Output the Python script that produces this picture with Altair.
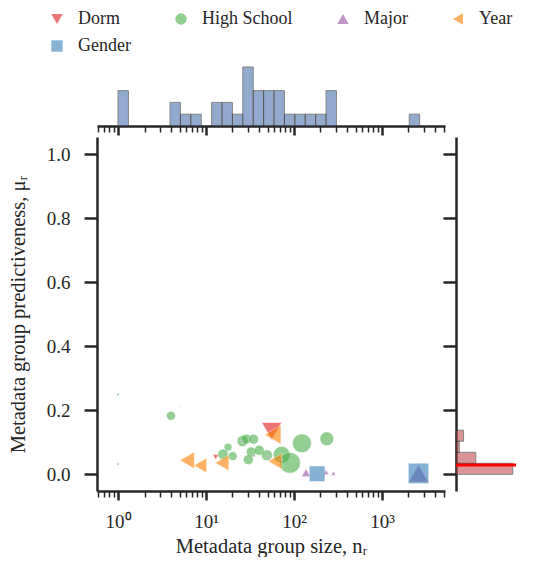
import altair as alt
import pandas as pd

# ---------------- data ----------------
categories = ["Dorm", "High School", "Major", "Year", "Gender"]
shape_names = ["triangle-down", "circle", "triangle-up", "triangle-left", "square"]
set1 = ["#e41a1c", "#4daf4a", "#984ea3", "#ff7f00", "#377eb8"]

dorm_n = [5.0, 12.9, 55.8]
dorm_mu = [0.212, 0.054, 0.135]
dorm_w = [1.5, 6, 20]

hs_n = [1, 1, 4, 17.8, 15.6, 20.1, 26.0, 28.5, 34.7, 32.7, 40.3, 30.3, 49.3, 72.5, 90, 123, 236]
hs_mu = [0.249, 0.032, 0.183, 0.085, 0.063, 0.057, 0.104, 0.110, 0.110, 0.070, 0.075,
         0.046, 0.060, 0.061, 0.036, 0.097, 0.111]
hs_w = [2.5, 2.5, 9, 8, 10.5, 9, 11, 10, 10, 10, 10, 10, 11, 17, 21, 19, 14]

major_n = [25.9, 35.4, 50.3, 72.5, 137, 231, 280, 2600]
major_mu = [0.104, 0.059, 0.056, 0.047, 0.005, 0.007, 0.004, 0.003]
major_w = [3, 3, 3, 3, 9, 6, 5, 20]

year_n = [6.1, 8.6, 15.2, 57.3, 60.8]
year_mu = [0.044, 0.028, 0.036, 0.124, 0.041]
year_w = [17, 15, 16, 19, 16]

gender_n = [183, 2600]
gender_mu = [0.002, 0.003]
gender_w = [15.7, 20.5]

# top marginal histogram of log10(group size)
top_bin_width = 0.1182
top_counts = [3, 0, 0, 0, 0, 2, 1, 1, 0, 2, 2, 1, 5, 3, 3, 3, 1, 1, 1, 1, 3,
              0, 0, 0, 0, 0, 0, 0, 1]

# right marginal histogram of predictiveness (weighted)
mu_edges = [0.0, 0.0345, 0.069, 0.1035, 0.138]
mu_weights = [17.2, 6.0, 1.0, 2.3]
mu_mean = 0.029

major_ticks = [1, 10, 100, 1000]
minor_ticks = [0.6, 0.7, 0.8, 0.9] + [m * d for d in [1, 10, 100] for m in range(2, 10)] + [2000, 3000, 4000, 5000]
y_ticks = [0.0, 0.2, 0.4, 0.6, 0.8, 1.0]

# ---------------- tables ----------------
rows = []
for cat, ns, mus, ws in [("Dorm", dorm_n, dorm_mu, dorm_w),
                         ("High School", hs_n, hs_mu, hs_w),
                         ("Major", major_n, major_mu, major_w),
                         ("Year", year_n, year_mu, year_w),
                         ("Gender", gender_n, gender_mu, gender_w)]:
    for n, mu, w in zip(ns, mus, ws):
        rows.append({"group": cat, "n": n, "mu": mu, "w": w})
points = pd.DataFrame(rows)
points["order"] = range(len(points))

top_df = pd.DataFrame({
    "lo": [10 ** (i * top_bin_width) for i in range(len(top_counts))],
    "hi": [10 ** ((i + 1) * top_bin_width) for i in range(len(top_counts))],
    "count": top_counts,
})
top_df = top_df[top_df["count"] > 0]

right_df = pd.DataFrame({"lo": mu_edges[:-1], "hi": mu_edges[1:], "weight": mu_weights})

# ---------------- styling ----------------
FONT = "Liberation Serif"
DARK = "#262626"
xscale = alt.Scale(type="log", domain=[0.577, 5200], nice=False)
yscale = alt.Scale(domain=[-0.052, 1.054], nice=False, zero=False)

W, H = 348, 354
TOP_H, RIGHT_W = 59, 60

leg = alt.Legend(orient="none", legendX=-49, legendY=-57, columns=4, title=None,
                 direction="horizontal", labelFont=FONT, labelFontSize=18,
                 labelColor=DARK, symbolSize=130, symbolOpacity=0.6,
                 symbolStrokeWidth=0, labelOffset=12, columnPadding=41,
                 rowPadding=9, padding=0)

x_major_axis = alt.Axis(orient="bottom", values=major_ticks,
                        labelExpr="datum.value == 1 ? '10⁰' : datum.value == 10 ? '10¹' : datum.value == 100 ? '10²' : '10³'",
                        tickSize=9, tickWidth=2.5, domainWidth=2.5, labelPadding=12,
                        labelFontSize=19, titleFontSize=20.5, titlePadding=5,
                        title="Metadata group size, nᵣ")

scatter = alt.Chart(points).mark_point(filled=True, opacity=0.6, stroke="white",
                                       strokeWidth=0.6).encode(
    x=alt.X("n:Q", scale=xscale, axis=x_major_axis),
    y=alt.Y("mu:Q", scale=yscale,
            axis=alt.Axis(values=y_ticks, format=".1f", tickSize=13, tickWidth=2.5,
                          domainWidth=2.5, labelPadding=14, labelFontSize=19,
                          titleFontSize=20.5, titlePadding=18,
                          title="Metadata group predictiveness, μᵣ")),
    color=alt.Color("group:N", scale=alt.Scale(domain=categories, range=set1), legend=leg),
    shape=alt.Shape("group:N", scale=alt.Scale(domain=categories, range=shape_names), legend=leg),
    size=alt.Size("w:Q", scale=alt.Scale(type="pow", exponent=2, domain=[0, 20], range=[0, 400]),
                  legend=None),
    order="order:Q",
)

minor_src = pd.DataFrame({"n": [1.0]})


def minor_layer():
    return alt.Chart(minor_src).mark_point(opacity=0).encode(
        x=alt.X("n:Q", scale=xscale,
                axis=alt.Axis(orient="bottom", values=minor_ticks, labels=False,
                              tickSize=6, tickWidth=1.5, domain=False, title=None)))


main = alt.layer(scatter, minor_layer()).resolve_axis(x="independent").properties(width=W, height=H)

top_bars = alt.Chart(top_df).mark_bar(color="#4c72b0", opacity=0.6, stroke="#333333",
                                      strokeWidth=1).encode(
    x=alt.X("lo:Q", scale=xscale,
            axis=alt.Axis(orient="bottom", values=major_ticks, labels=False, tickSize=9,
                          tickWidth=2.5, domainWidth=2.5, title=None)),
    x2="hi:Q",
    y=alt.Y("count:Q", scale=alt.Scale(domain=[0, 5], nice=False), axis=None),
    y2=alt.datum(0),
)
top = alt.layer(top_bars, minor_layer()).resolve_axis(x="independent").properties(width=W, height=TOP_H)

right_axis = alt.Axis(orient="left", values=y_ticks, labels=False, tickSize=13, tickWidth=2.5,
                      domainWidth=2.5, title=None)
right_bars = alt.Chart(right_df).mark_bar(color="#c44e52", opacity=0.6, stroke="#333333",
                                          strokeWidth=1).encode(
    y=alt.Y("lo:Q", scale=yscale, axis=right_axis),
    y2="hi:Q",
    x=alt.X("weight:Q", scale=alt.Scale(domain=[0, 18.2], nice=False), axis=None),
    x2=alt.datum(0),
)
right_mean = alt.Chart(pd.DataFrame({"mu": [mu_mean]})).mark_rule(color="#ff0000", strokeWidth=3).encode(
    y=alt.Y("mu:Q", scale=yscale, axis=right_axis))
right = alt.layer(right_bars, right_mean).properties(width=RIGHT_W, height=H)

chart = alt.vconcat(
    top,
    alt.hconcat(main, right, spacing=11, bounds="flush"),
    spacing=11, bounds="flush",
).properties(padding={"top": 2, "left": 0, "right": 0, "bottom": 0}).configure_view(stroke=None).configure_axis(
    labelFont=FONT, titleFont=FONT, labelColor=DARK, titleColor=DARK,
    domainColor=DARK, tickColor=DARK, grid=False, titleFontWeight="normal",
)

chart.save("out.html", embed_options={"renderer": "svg", "actions": False})
